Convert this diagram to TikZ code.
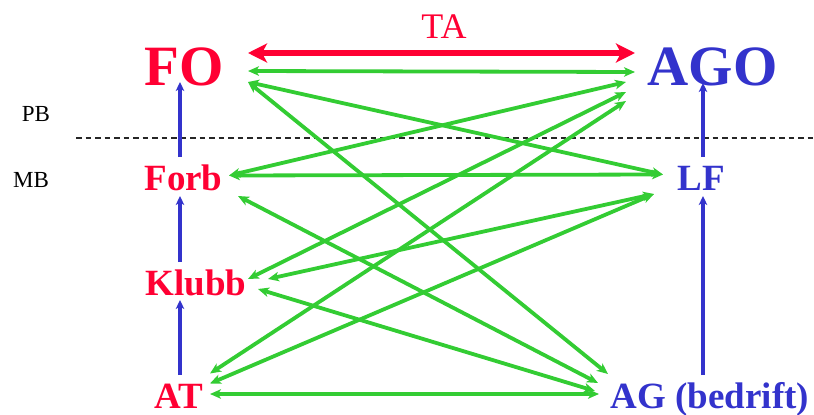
\documentclass[tikz,border=0pt]{standalone}
\usepackage{fontspec}
\setmainfont{Liberation Serif}
\usetikzlibrary{arrows.meta}
\definecolor{tred}{RGB}{255,0,51}
\definecolor{tblue}{RGB}{51,51,204}
\definecolor{tgreen}{RGB}{51,204,51}
\begin{document}
\begin{tikzpicture}[x=1pt,y=-1pt,
  big/.style={inner sep=0pt, anchor=base, font=\fontsize{57}{57}\selectfont\bfseries},
  mid/.style={inner sep=0pt, anchor=base, font=\fontsize{37}{37}\selectfont\bfseries},
  lbl/.style={inner sep=0pt, anchor=base, font=\fontsize{23}{23}\selectfont},
  gtip/.tip={Stealth[length=11pt,width=9.5pt,inset=3pt]},
  garrow/.style={tgreen, line width=3.8pt, gtip-gtip},
  barrow/.style={tblue, line width=3.2pt, -{Stealth[length=9pt,width=8.5pt,inset=2.5pt]}},
  rarrow/.style={tred, line width=6pt, {Stealth[length=19pt,width=19pt,inset=5pt]}-{Stealth[length=19pt,width=19pt,inset=5pt]}}
]
\useasboundingbox (0,0) rectangle (814,415);

% labels
\node[big, tred]  (FO)  at (184,85) {FO};
\node[big, tblue] (AGO) at (712.5,85) {AGO};
\node[inner sep=0pt, anchor=base, font=\fontsize{36}{36}\selectfont, tred] (TA) at (444,38) {TA};
\node[lbl] (PB) at (36,121) {PB};
\node[lbl] (MB) at (31,187) {MB};
\node[mid, tred]  (Forb)  at (183.5,190) {Forb};
\node[mid, tred]  (Klubb) at (196,295) {Klubb};
\node[mid, tred]  (AT)    at (179,408) {AT};
\node[mid, tblue] (LF)    at (701,190) {LF};
\node[mid, tblue] (AG)    at (710,408) {AG (bedrift)};

% dashed boundary
\coordinate (dashL) at (76,137.5);
\coordinate (dashR) at (814,137.5);
\draw[line width=2pt, black!85, dash pattern=on 5.5pt off 4pt] (dashL) -- (dashR);

% ports, left side
\coordinate (FO1) at (248,71);
\coordinate (FO2) at (248,82);
\coordinate (Forb1) at (229,175.5);
\coordinate (Forb2) at (238,196);
\coordinate (Kl1) at (248,279);
\coordinate (Kl2) at (268,279);
\coordinate (Kl3) at (258,289);
\coordinate (AT1) at (210,373.5);
\coordinate (AT2) at (210,383.5);
\coordinate (AT3) at (210,394);
% ports, right side
\coordinate (AGO0) at (635,53);
\coordinate (FO0) at (248,53);
\coordinate (AGO1) at (635,72);
\coordinate (AGO2) at (626,82);
\coordinate (AGO3) at (626,92);
\coordinate (AGO4) at (626,101);
\coordinate (LF1) at (663,174.5);
\coordinate (LF2) at (654,194);
\coordinate (AG1) at (608,374);
\coordinate (AG2) at (598,383);
\coordinate (AG3) at (595,391);
\coordinate (AG4) at (599,394);

% TA arrow
\draw[rarrow] (FO0) -- (AGO0);

% green connections
\draw[garrow] (FO1) -- (AGO1);
\draw[garrow] (FO2) -- (LF1);
\draw[garrow] (FO2) -- (AG1);
\draw[garrow] (Forb1) -- (AGO2);
\draw[garrow] (Forb1) -- (LF1);
\draw[garrow] (Forb2) -- (AG2);
\draw[garrow] (Kl1) -- (AGO3);
\draw[garrow] (Kl2) -- (LF2);
\draw[garrow] (Kl3) -- (AG3);
\draw[garrow] (AT1) -- (AGO4);
\draw[garrow] (AT2) -- (LF2);
\draw[garrow] (AT3) -- (AG4);

% blue hierarchy arrows
\coordinate (ForbTop) at (180,157);
\coordinate (FOBot) at (180,82);
\coordinate (KlTop) at (180,262);
\coordinate (ForbBot) at (180,196);
\coordinate (ATTop) at (180,375);
\coordinate (KlBot) at (180,300);
\coordinate (LFTop) at (703,157);
\coordinate (AGOBot) at (703,83);
\coordinate (AGTop) at (703,375);
\coordinate (LFBot) at (703,196);
\draw[barrow] (ForbTop) -- (FOBot);
\draw[barrow] (KlTop) -- (ForbBot);
\draw[barrow] (ATTop) -- (KlBot);
\draw[barrow] (LFTop) -- (AGOBot);
\draw[barrow] (AGTop) -- (LFBot);
\end{tikzpicture}
\end{document}
